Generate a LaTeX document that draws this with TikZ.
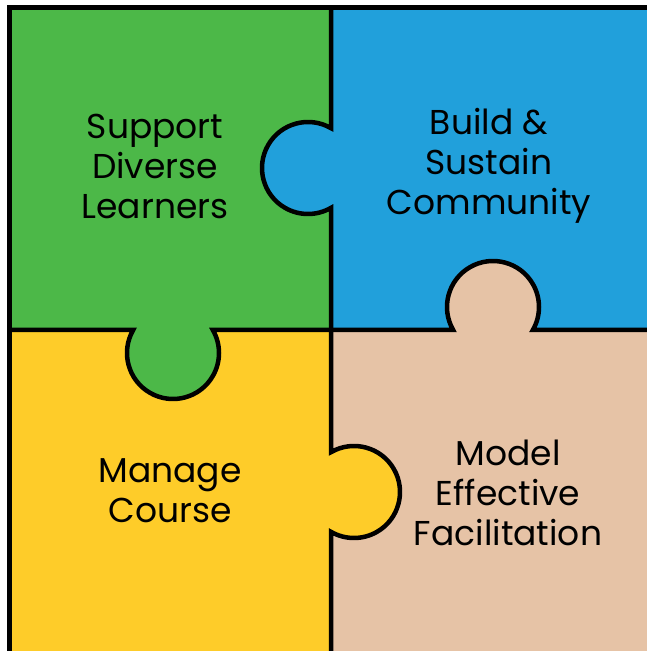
\documentclass[tikz,border=0pt]{standalone}
\usepackage{fontspec}
\setmainfont{Poppins}
\usetikzlibrary{calc}
\definecolor{pgreen}{RGB}{76,184,72}
\definecolor{pblue}{RGB}{33,160,219}
\definecolor{pyellow}{RGB}{254,204,41}
\definecolor{pbeige}{RGB}{230,195,166}
\tikzset{
  edge/.style={draw=black, line width=4.5pt, line join=miter},
  label/.style={align=center, font=\fontsize{34.5}{40}\selectfont, text=black, inner sep=0pt}
}
\begin{document}
\begin{tikzpicture}[x=1pt,y=1pt]
\useasboundingbox (0,0) rectangle (647,651);
\clip (0,0) rectangle (647,651);
% quadrants
\fill[pgreen]  (9.5,321) rectangle (331,643.5);
\fill[pblue]   (331,321) rectangle (660,643.5);
\fill[pyellow] (9.5,-10) rectangle (331,321);
\fill[pbeige]  (331,-10) rectangle (660,321);
% tabs
\fill[pblue]   (308,483) circle (46);
\fill[pbeige]  (493,344) circle (46);
\fill[pgreen]  (173,298) circle (46);
\fill[pyellow] (354,159) circle (46);
% outer border
\draw[edge] (9.5,-10) -- (9.5,643.5) -- (660,643.5);
% vertical divider
\coordinate (vtop) at (331,643.5);
\coordinate (vbot) at (331,-10);
\draw[edge] (vtop) -- ($(308,483)+(60:46)$) arc[start angle=60,end angle=300,radius=46]
  -- ($(354,159)+(120:46)$) arc[start angle=120,end angle=-120,radius=46] -- (vbot);
% horizontal divider
\coordinate (hl) at (9.5,321);
\coordinate (hr) at (660,321);
\draw[edge] (hl) -- ($(173,298)+(150:46)$) arc[start angle=150,end angle=390,radius=46]
  -- ($(493,344)+(210:46)$) arc[start angle=210,end angle=-30,radius=46] -- (hr);
% labels
\node[label] (sdl) at (155,485) {Support\\Diverse\\Learners};
\node[label] (bsc) at (489,485) {Build \&\\Sustain\\Community};
\node[label] (mc)  at (170,160) {Manage\\Course};
\node[label] (mef) at (508,158) {Model\\Effective\\Facilitation};
\end{tikzpicture}
\end{document}
